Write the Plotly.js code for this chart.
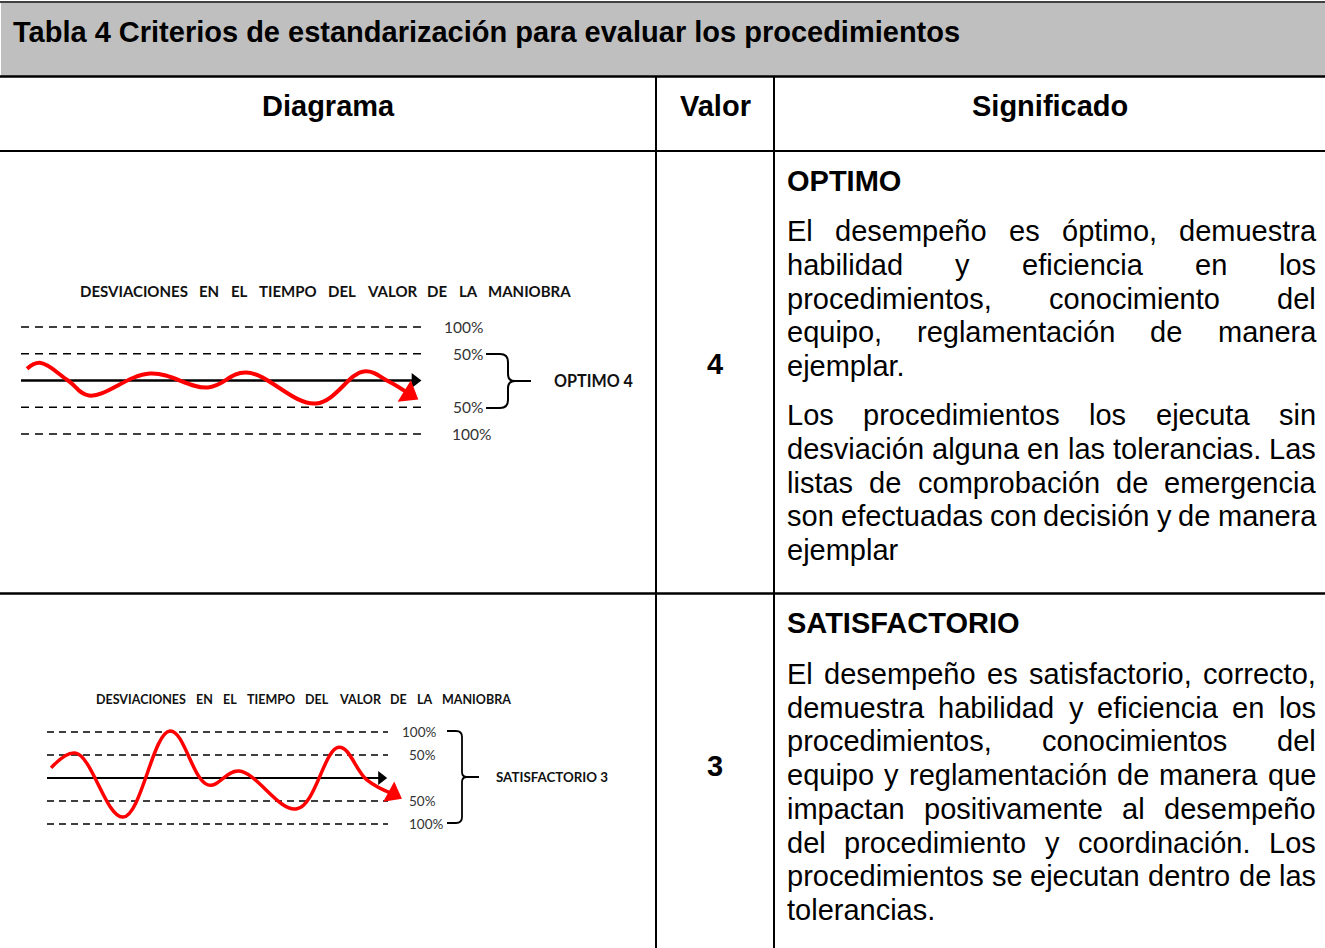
<!DOCTYPE html>
<html><head><meta charset="utf-8">
<script src="https://cdn.plot.ly/plotly-3.0.1.min.js"></script>
<style>html,body{margin:0;padding:0;background:#fff}#chart{width:1325px;height:948px}</style>
</head><body><div id="chart"></div>
<script>
// ---------------- data ----------------
const tableTitle = "Tabla 4 Criterios de estandarización para evaluar los procedimientos";
const columnHeaders = ["Diagrama", "Valor", "Significado"];
const diagramTitle = "DESVIACIONES EN EL TIEMPO DEL VALOR DE LA MANIOBRA";
const bandLevels = [100, 50, -50, -100];
const bandLabels = ["100%", "50%", "50%", "100%"];
const ratingNames = ["OPTIMO", "SATISFACTORIO"];
const ratingValues = ["4", "3"];
const ratingTags = ["OPTIMO 4", "SATISFACTORIO 3"];

// deviation (% of tolerance) over manoeuvre time (0-100)
const optimoTime = [1.5, 4.7, 11.7, 16.9, 32.1, 46.5, 56.0, 73.4, 85.3, 91.5, 96.5];
const optimoDev  = [22, 33, 0, -28, 13, -13, 15, -43, 17, -2, -25];
const satisTime  = [1.2, 8.5, 22.3, 36.1, 47.2, 56.3, 73.3, 85.6, 93.8, 101.5];
const satisDev   = [22, 54, -85, 102, -15, 15, -67, 67, -4, -35];

const optimoParas = [
  ["El desempeño es óptimo, demuestra",
   "habilidad y eficiencia en los",
   "procedimientos, conocimiento del",
   "equipo, reglamentación de manera",
   "ejemplar."],
  ["Los procedimientos los ejecuta sin",
   "desviación alguna en las tolerancias. Las",
   "listas de comprobación de emergencia",
   "son efectuadas con decisión y de manera",
   "ejemplar"]
];
const satisParas = [
  ["El desempeño es satisfactorio, correcto,",
   "demuestra habilidad y eficiencia en los",
   "procedimientos, conocimientos del",
   "equipo y reglamentación de manera que",
   "impactan positivamente al desempeño",
   "del procedimiento y coordinación. Los",
   "procedimientos se ejecutan dentro de las",
   "tolerancias."]
];

// ---------------- helpers ----------------
const W = 1325, H = 948;
const px = x => x / W, py = y => 1 - y / H;
const ARIAL = "Liberation Sans, Arial, sans-serif";
const LATO = "Lato, Carlito, Calibri, sans-serif";
const cv = document.createElement('canvas').getContext('2d');
function measure(t, size, family, weight) { cv.font = weight + " " + size + "px " + family; return cv.measureText(t).width; }

function textAnn(text, x, y, size, family, weight, color, xanchor, extra) {
  return Object.assign({text: text, x: px(x), y: py(y), xref: 'paper', yref: 'paper',
    xanchor: xanchor || 'left', yanchor: 'middle', showarrow: false, borderpad: 0,
    font: {family: family, size: size, color: color || '#000', weight: weight}}, extra || {});
}
function lineAnns(text, x0, x1, y, size, family, weight, color, justify) {
  const words = text.split(' ');
  const ws = words.map(w => measure(w, size, family, weight));
  let gap = measure(' ', size, family, weight);
  if (justify && words.length > 1) gap = (x1 - x0 - ws.reduce((a, b) => a + b, 0)) / (words.length - 1);
  let x = x0; const out = [];
  words.forEach((w, i) => { out.push(textAnn(w, x, y, size, family, weight, color, 'left')); x += ws[i] + gap; });
  return out;
}
function paraAnns(paras, yStarts, lh) {
  let out = [];
  paras.forEach((lines, p) => {
    lines.forEach((ln, i) => {
      out = out.concat(lineAnns(ln, 786, 1315, yStarts[p] + i * lh, 29, ARIAL, 400, '#000', i < lines.length - 1));
    });
  });
  return out;
}
function hline(y, x0, x1, w) { return {type: 'line', xref: 'paper', yref: 'paper', x0: px(x0), x1: px(x1), y0: py(y), y1: py(y), line: {color: '#000', width: w}}; }
function vline(x, y0, y1, w) { return {type: 'line', xref: 'paper', yref: 'paper', x0: px(x), x1: px(x), y0: py(y0), y1: py(y1), line: {color: '#000', width: w}}; }
function pathOf(cmds) {
  return cmds.map(c => c[0] + c.slice(1).reduce((s, v, i) => s + (i ? (i % 2 ? ',' : ' ') : '') + (i % 2 ? py(v) : px(v)), '')).join(' ');
}
function brace(cmds, w) { return {type: 'path', xref: 'paper', yref: 'paper', path: pathOf(cmds), line: {color: '#000', width: w}}; }

// ---------------- traces ----------------
function bandTrace(xa, ya, dash, width) {
  const x = [], y = [];
  bandLevels.forEach(l => { x.push(0, 100, null); y.push(l, l, null); });
  return {x: x, y: y, xaxis: xa, yaxis: ya, mode: 'lines', hoverinfo: 'skip',
    line: {color: '#000', width: width, dash: dash}};
}
function axisTraces(xa, ya, width, head) {
  return [
    {x: [0, 97.5], y: [0, 0], xaxis: xa, yaxis: ya, mode: 'lines', line: {color: '#000', width: width}, hoverinfo: 'skip'},
    {x: [0, 98], y: [0, 0], xaxis: xa, yaxis: ya, mode: 'markers', hoverinfo: 'skip', cliponaxis: false,
      marker: {symbol: 'triangle-up', angleref: 'previous', size: [0, head], color: '#000', opacity: 1, line: {width: 0}}}
  ];
}
function waveTraces(t, d, xa, ya, width, head) {
  const n = t.length;
  return [
    {x: t, y: d, xaxis: xa, yaxis: ya, mode: 'lines', hoverinfo: 'skip',
      line: {color: '#ff0000', width: width, shape: 'spline', smoothing: 1.1}},
    {x: t.slice(n - 2), y: d.slice(n - 2), xaxis: xa, yaxis: ya, mode: 'markers', hoverinfo: 'skip', cliponaxis: false,
      marker: {symbol: 'triangle-up', angleref: 'previous', size: [0, head], color: '#ff0000', opacity: 1, line: {width: 0}}}
  ];
}

const traces = [
  bandTrace('x', 'y', '8px,6px', 1.5),
  ...axisTraces('x', 'y', 2.5, 13),
  ...waveTraces(optimoTime, optimoDev, 'x', 'y', 4, 22),
  bandTrace('x2', 'y2', '7px,5px', 1.3),
  ...axisTraces('x2', 'y2', 2.2, 12),
  ...waveTraces(satisTime, satisDev, 'x2', 'y2', 3.5, 20)
];

// ---------------- annotations ----------------
let anns = [];
anns.push(textAnn(tableTitle, 12, 32, 29, ARIAL, 700, '#000', 'left'));
[[328, 0], [715, 1], [1050, 2]].forEach(([x, i]) => anns.push(textAnn(columnHeaders[i], x, 106, 29, ARIAL, 700, '#000', 'center')));
anns.push(textAnn(ratingNames[0], 786, 181, 29, ARIAL, 700, '#000', 'left'));
anns.push(textAnn(ratingNames[1], 786, 623, 29, ARIAL, 700, '#000', 'left'));
anns.push(textAnn(ratingValues[0], 715, 364, 29, ARIAL, 700, '#000', 'center'));
anns.push(textAnn(ratingValues[1], 715, 766, 29, ARIAL, 700, '#000', 'center'));
anns = anns.concat(paraAnns(optimoParas, [231, 415], 33.8));
anns = anns.concat(paraAnns(satisParas, [674], 33.7));

// diagram titles
anns = anns.concat(lineAnns(diagramTitle, 79, 570, 291, 15, LATO, 700, '#111', true));
anns = anns.concat(lineAnns(diagramTitle, 95, 510, 699, 12.5, LATO, 700, '#111', true));

// band labels (tied to band levels on each diagram's y axis)
const lab1Right = [484, 484, 484, 492];
const lab2Right = [437, 437, 437, 444];
bandLevels.forEach((l, i) => {
  anns.push({text: bandLabels[i], x: px(lab1Right[i]), xref: 'paper', y: l, yref: 'y', xanchor: 'right', yanchor: 'middle',
    showarrow: false, borderpad: 0, font: {family: LATO, size: 15.5, color: '#333'}});
  anns.push({text: bandLabels[i], x: px(lab2Right[i]), xref: 'paper', y: l, yref: 'y2', xanchor: 'right', yanchor: 'middle',
    showarrow: false, borderpad: 0, font: {family: LATO, size: 13.5, color: '#333'}});
});
function fitSize(t, w, family, weight) { return 15 * w / measure(t, 15, family, weight); }
anns.push(textAnn(ratingTags[0], 553, 380, fitSize(ratingTags[0], 79, LATO, 700), LATO, 700, '#111', 'left'));
anns.push(textAnn(ratingTags[1], 495, 777, fitSize(ratingTags[1], 112, LATO, 700), LATO, 700, '#111', 'left'));

// ---------------- shapes (table grid + braces) ----------------
const shapes = [
  {type: 'rect', xref: 'paper', yref: 'paper', x0: px(1), x1: px(W), y0: py(3), y1: py(76), fillcolor: '#bfbfbf', line: {width: 0}, layer: 'below'},
  hline(2, 0, W, 1.5),
  hline(76.5, 0, W, 2.5),
  hline(151, 0, W, 2),
  hline(593.5, 0, W, 2.5),
  vline(656, 76, H, 2),
  vline(774, 76, H, 2),
  brace([['M', 486, 354], ['L', 500, 354], ['Q', 508, 354, 508, 362], ['L', 508, 374], ['Q', 508, 381, 515, 381], ['L', 531, 381],
         ['M', 515, 381], ['Q', 508, 381, 508, 388], ['L', 508, 400], ['Q', 508, 408, 500, 408], ['L', 486, 408]], 2),
  brace([['M', 447, 731], ['L', 456, 731], ['Q', 462, 731, 462, 737], ['L', 462, 772], ['Q', 462, 777, 467, 777], ['L', 479, 777],
         ['M', 467, 777], ['Q', 462, 777, 462, 782], ['L', 462, 817], ['Q', 462, 823, 456, 823], ['L', 447, 823]], 1.8)
];

// ---------------- layout ----------------
const layout = {
  width: W, height: H, margin: {l: 0, r: 0, t: 0, b: 0}, showlegend: false,
  paper_bgcolor: '#fff', plot_bgcolor: 'rgba(0,0,0,0)',
  xaxis: {domain: [px(0.9), px(443.1)], range: [-5, 105], visible: false, fixedrange: true},
  yaxis: {domain: [py(444.7), py(316.3)], range: [-120, 120], visible: false, fixedrange: true},
  xaxis2: {domain: [px(29.95), px(422.1)], range: [-5, 110], visible: false, anchor: 'y2', fixedrange: true},
  yaxis2: {domain: [py(833.2), py(722.8)], range: [-120, 120], visible: false, anchor: 'x2', fixedrange: true},
  shapes: shapes, annotations: anns
};
Plotly.newPlot('chart', traces, layout, {displayModeBar: false, staticPlot: true});
</script>
</body></html>
